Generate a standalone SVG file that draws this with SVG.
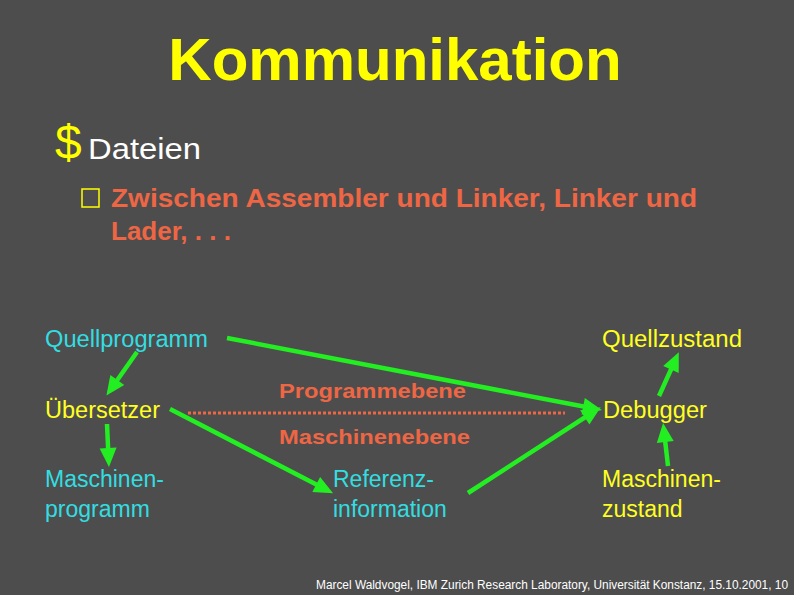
<svg xmlns="http://www.w3.org/2000/svg" width="794" height="595" viewBox="0 0 794 595">
<style>
text{font-family:"Liberation Sans",Arial,sans-serif}
.lbl{font-size:23px}
.cy{fill:#33dde0}
.ye{fill:#ffff22}
.or{fill:#ee6644;font-weight:bold}
.arr{stroke:#22ee22;stroke-width:4.5;fill:none;marker-end:url(#ah)}
</style>
<defs>
<marker id="ah" markerUnits="userSpaceOnUse" markerWidth="20" markerHeight="18" refX="11" refY="8.5" orient="auto" style="overflow:visible">
<path d="M0,0 L19,8.5 L0,17 z" fill="#22ee22"/>
</marker>
</defs>
<rect width="794" height="595" fill="#4d4d4d"/>
<g id="title">
<text x="395" y="80" text-anchor="middle" font-size="60" font-weight="bold" fill="#ffff00">Kommunikation</text>
</g>
<g id="bullets">
<text x="55" y="159" font-size="48" fill="#ffff00">$</text>
<text x="88" y="159" font-size="30" fill="#ffffff" textLength="113" lengthAdjust="spacingAndGlyphs">Dateien</text>
<rect x="82" y="189" width="17" height="18" fill="none" stroke="#ffff00" stroke-width="1.5"/>
<text x="111" y="207" class="or" font-size="26" textLength="586" lengthAdjust="spacingAndGlyphs">Zwischen Assembler und Linker, Linker und</text>
<text x="111" y="240" class="or" font-size="26">Lader, . . .</text>
</g>
<g id="connectors">
<line x1="188" y1="413" x2="565" y2="413" stroke="#ee6644" stroke-width="3" stroke-dasharray="3 2"/>
<line class="arr" x1="137" y1="352" x2="111" y2="389"/>
<line class="arr" x1="107" y1="424" x2="108.6" y2="459"/>
<line class="arr" x1="170" y1="409" x2="326" y2="489.5"/>
<line class="arr" x1="227" y1="338" x2="594" y2="408.5"/>
<line class="arr" x1="468" y1="493" x2="594" y2="411.5"/>
<line class="arr" x1="659" y1="396" x2="675.5" y2="359.5"/>
<line class="arr" x1="668" y1="466" x2="664" y2="431"/>
</g>
<g id="quellprogramm"><text x="45" y="347" class="lbl cy" textLength="163" lengthAdjust="spacingAndGlyphs">Quellprogramm</text></g>
<g id="uebersetzer"><text x="45" y="418" class="lbl ye" textLength="115" lengthAdjust="spacingAndGlyphs">Übersetzer</text></g>
<g id="maschinenprogramm"><text class="lbl cy"><tspan x="45" y="487">Maschinen-</tspan><tspan x="45" y="517">programm</tspan></text></g>
<g id="programmebene"><text x="279" y="398" class="or" font-size="21" textLength="187" lengthAdjust="spacingAndGlyphs">Programmebene</text></g>
<g id="maschinenebene"><text x="279" y="444" class="or" font-size="21" textLength="191" lengthAdjust="spacingAndGlyphs">Maschinenebene</text></g>
<g id="referenzinformation"><text class="lbl cy"><tspan x="333" y="487">Referenz-</tspan><tspan x="333" y="517">information</tspan></text></g>
<g id="quellzustand"><text x="602" y="347" class="lbl ye" textLength="140" lengthAdjust="spacingAndGlyphs">Quellzustand</text></g>
<g id="debugger"><text x="603" y="418" class="lbl ye" textLength="104" lengthAdjust="spacingAndGlyphs">Debugger</text></g>
<g id="maschinenzustand"><text class="lbl ye"><tspan x="602" y="487">Maschinen-</tspan><tspan x="602" y="517">zustand</tspan></text></g>
<g id="footer"><text x="316" y="589" font-size="12" fill="#ffffff" textLength="472" lengthAdjust="spacingAndGlyphs">Marcel Waldvogel, IBM Zurich Research Laboratory, Universität Konstanz, 15.10.2001, 10</text></g>
</svg>
